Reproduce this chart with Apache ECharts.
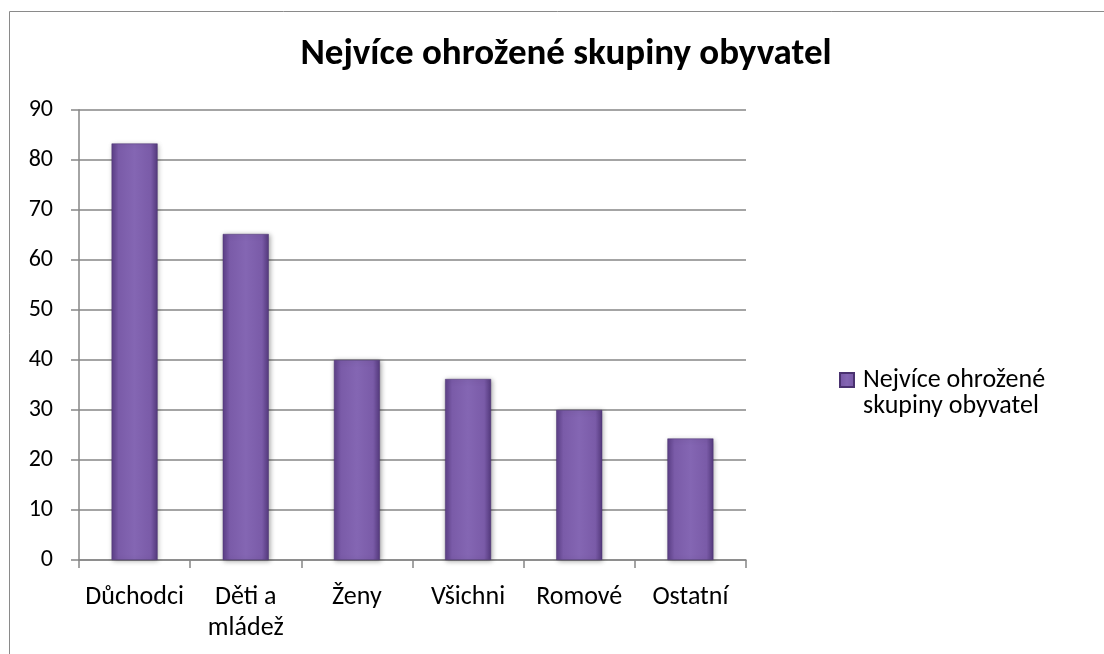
<!DOCTYPE html>
<html>
<head>
<meta charset="utf-8">
<script src="https://cdn.jsdelivr.net/npm/echarts@6/dist/echarts.min.js"></script>
<style>
html, body { margin: 0; padding: 0; background: #fff; }
#chart { width: 1104px; height: 654px; }
</style>
</head>
<body>
<div id="chart"></div>
<script>
// data
var categories = ['Důchodci', 'Děti a\nmládež', 'Ženy', 'Všichni', 'Romové', 'Ostatní'];
var values = [83.3, 65.2, 40, 36.2, 30, 24.3];
var seriesName = 'Nejvíce ohrožené skupiny obyvatel';
var yTicks = { min: 0, max: 90, interval: 10 };

var font = 'Carlito, "Liberation Sans", "DejaVu Sans", sans-serif';

var chart = echarts.init(document.getElementById('chart'));

// bar fill: darker edges, lighter middle (like the excel bevel)
var barColor = new echarts.graphic.LinearGradient(0, 0, 1, 0, [
  { offset: 0, color: '#5d3f88' },
  { offset: 0.15, color: '#7a5ba8' },
  { offset: 0.5, color: '#8466b3' },
  { offset: 0.85, color: '#7a5ba8' },
  { offset: 1, color: '#553a7e' }
]);

var option = {
  backgroundColor: '#fff',
  animation: false,
  title: {
    text: 'Nejvíce ohrožené skupiny obyvatel',
    left: 561,
    textAlign: 'center',
    top: 31,
    textStyle: { fontFamily: font, fontWeight: 'bold', fontSize: 37, color: '#000' }
  },
  graphic: [{
    type: 'polyline',
    shape: { points: [[9.5, 660], [9.5, 11.5], [1110, 11.5]] },
    style: { stroke: '#8a8a8a', lineWidth: 1, fill: null }
  }],
  legend: {
    orient: 'vertical',
    left: 834,
    top: 362,
    itemWidth: 14,
    itemHeight: 40,
    // square at the top of a taller box so it lines up with the first text line
    icon: 'path://M0,0L14,0L14,14L0,14ZM0,40',
    formatter: function () { return 'Nejvíce ohrožené\nskupiny obyvatel'; },
    textStyle: { fontFamily: font, fontSize: 26, color: '#000', lineHeight: 26, padding: [0, 0, 0, 4] }
  },
  grid: { left: 79, right: 358, top: 110, bottom: 94, containLabel: false },
  xAxis: {
    type: 'category',
    data: categories,
    axisLine: { lineStyle: { color: '#868686', width: 1.5 } },
    axisTick: { show: true, length: 8, lineStyle: { color: '#868686', width: 1.5 } },
    axisLabel: { interval: 0, fontFamily: font, fontSize: 26, color: '#000', margin: 22, lineHeight: 31 },
    splitLine: { show: false }
  },
  yAxis: {
    type: 'value',
    min: yTicks.min,
    max: yTicks.max,
    interval: yTicks.interval,
    axisLine: { show: true, lineStyle: { color: '#868686', width: 1.5 } },
    axisTick: { show: true, length: 8, lineStyle: { color: '#868686', width: 1.5 } },
    axisLabel: { fontFamily: font, fontSize: 24, color: '#000', margin: 26 },
    splitLine: { lineStyle: { color: '#868686', width: 1.5 } }
  },
  series: [{
    name: seriesName,
    type: 'bar',
    data: values,
    barWidth: 46,
    itemStyle: {
      color: barColor,
      borderColor: '#4a3270',
      borderWidth: 0.5,
      shadowColor: 'rgba(0,0,0,0.35)',
      shadowBlur: 5,
      shadowOffsetX: 1,
      shadowOffsetY: 1
    }
  }]
};

chart.setOption(option);
</script>
</body>
</html>
